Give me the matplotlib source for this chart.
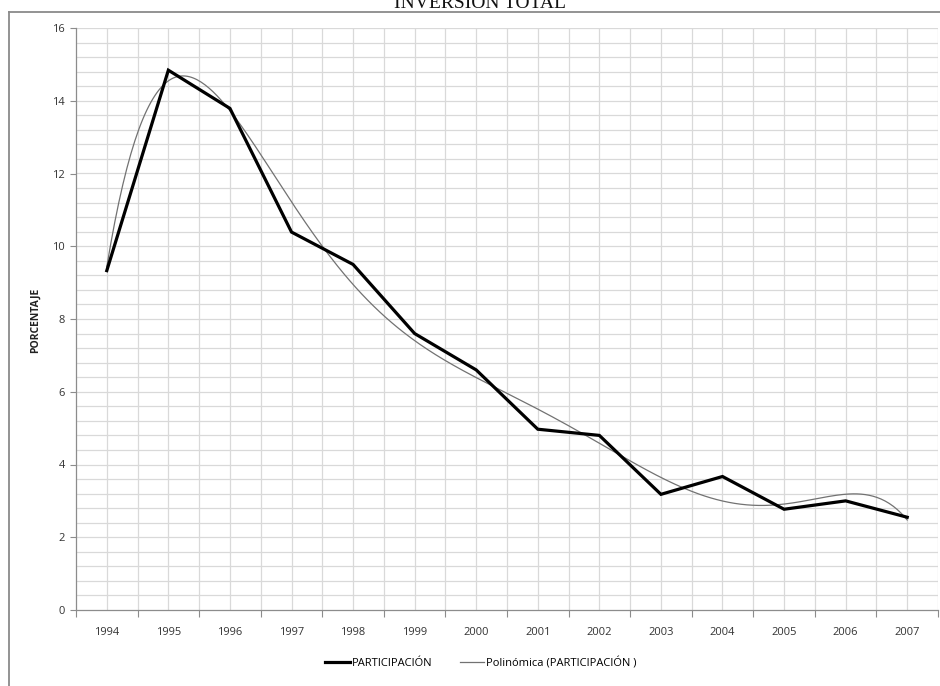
import numpy as np
import matplotlib
matplotlib.use("Agg")
import matplotlib.pyplot as plt
from matplotlib.lines import Line2D

# Participación de la inversión total (%)
years = ["1994", "1995", "1996", "1997", "1998", "1999", "2000",
         "2001", "2002", "2003", "2004", "2005", "2006", "2007"]
participacion = [9.33, 14.84, 13.79, 10.39, 9.50, 7.60, 6.60,
                 4.97, 4.80, 3.18, 3.67, 2.77, 3.00, 2.55]
trend_degree = 6

title = "INVERSIÓN TOTAL"
ylabel = "PORCENTAJE"
label_series = "PARTICIPACIÓN"
label_trend = "Polinómica (PARTICIPACIÓN )"

W, H = 940, 686
fig = plt.figure(figsize=(W / 100, H / 100), dpi=100)
ax = fig.add_axes([76 / W, 1 - 610 / H, (938 - 76) / W, (610 - 28) / H])

x = np.arange(1, len(years) + 1)
y = np.array(participacion)

# polynomial trendline fitted to the series
coef = np.polyfit(x, y, trend_degree)
xs = np.linspace(x[0], x[-1], 400)
ys = np.polyval(coef, xs)

ax.plot(xs, ys, color="#727272", lw=0.9, zorder=3)
ax.plot(x, y, color="black", lw=2.3, solid_joinstyle="miter", zorder=4)

ax.set_xlim(0.5, len(years) + 0.5)
ax.set_ylim(0, 16)

# horizontal grid every 0.4, labels every 2
ax.set_yticks(np.arange(0, 16.01, 2))
ax.set_yticks(np.arange(0, 16.01, 0.4), minor=True)
# vertical grid at category centres and boundaries
ax.set_xticks(np.arange(0.5, len(years) + 0.6, 1))
ax.set_xticks(x, minor=True)
ax.set_xticklabels([])
for xi, lab in zip(x, years):
    ax.text(xi, -0.62, lab, ha="center", va="center", fontsize=8,
            family="Open Sans", color="#333333")

grid_c = "#d9d9d9"
for v in np.arange(0.4, 16.01, 0.4):
    ax.axhline(v, color=grid_c, lw=0.9, zorder=1)
for v in np.arange(1, len(years) + 0.6, 0.5):
    ax.axvline(v, color=grid_c, lw=0.9, zorder=1)

ax.tick_params(axis="y", which="major", length=4, width=0.8, color="#8c8c8c",
               labelsize=8, labelcolor="#333333", pad=4)
ax.tick_params(axis="y", which="minor", length=0)
ax.tick_params(axis="x", which="major", length=5, width=0.8, color="#8c8c8c")
ax.tick_params(axis="x", which="minor", length=0)
for t in ax.get_yticklabels():
    t.set_family("Open Sans")

for s in ["top", "right"]:
    ax.spines[s].set_visible(False)
for s in ["left", "bottom"]:
    ax.spines[s].set_color("#8c8c8c")
    ax.spines[s].set_linewidth(0.9)

fig.text(35 / W, 1 - 320 / H, ylabel, rotation=90, ha="center", va="center",
         fontsize=7.5, fontweight="bold", family="Open Sans", color="#222222")

fig.text(480 / W, 1 - 8 / H, title, ha="center", va="baseline",
         fontsize=14, family="Liberation Serif", color="#111111")

# outer chart frame
fig.add_artist(Line2D([9 / W, 1.0], [1 - 12 / H, 1 - 12 / H],
                      transform=fig.transFigure, color="#8a8a8a", lw=1.3))
fig.add_artist(Line2D([9 / W, 9 / W], [0.0, 1 - 12 / H],
                      transform=fig.transFigure, color="#8a8a8a", lw=1.3))

handles = [Line2D([], [], color="black", lw=2.3),
           Line2D([], [], color="#727272", lw=0.9)]
fig.legend(handles, [label_series, label_trend], loc="center",
           bbox_to_anchor=(481 / W, 1 - 663 / H), ncol=2, frameon=False,
           handlelength=2.2, handletextpad=0.15, columnspacing=2.5,
           prop={"family": "Open Sans", "size": 8})

fig.savefig("out.png", dpi=100)
